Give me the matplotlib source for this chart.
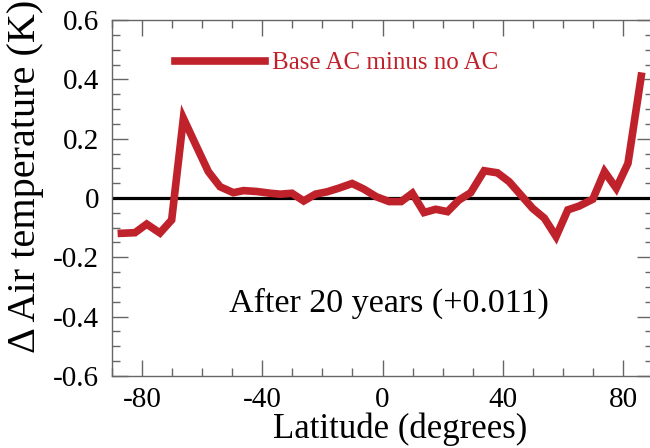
import matplotlib
matplotlib.use("Agg")
import matplotlib.pyplot as plt
from matplotlib.ticker import MultipleLocator

plt.rcParams['font.family'] = ['Liberation Serif', 'DejaVu Serif']

# zonal mean difference
lat = [-86.8, -82.3, -78.4, -74.0, -70.1, -66.2, -61.8, -57.9, -54.0, -49.6,
       -46.2, -41.8, -37.3, -34.0, -30.1, -26.2, -22.3, -18.4, -14.6, -10.1,
       -6.2, -2.0, 2.2, 6.2, 9.9, 13.8, 17.7, 21.6, 25.4, 29.3,
       33.8, 38.2, 42.1, 46.0, 49.9, 53.8, 57.7, 61.6, 65.4, 69.9,
       73.8, 77.7, 81.6, 86.0]
dtemp = [-0.119, -0.117, -0.088, -0.118, -0.074, 0.269, 0.173, 0.089, 0.038, 0.018,
         0.025, 0.022, 0.016, 0.013, 0.016, -0.010, 0.013, 0.021, 0.033, 0.049,
         0.030, 0.004, -0.012, -0.012, 0.016, -0.049, -0.038, -0.046, -0.007, 0.018,
         0.092, 0.085, 0.055, 0.010, -0.035, -0.068, -0.130, -0.040, -0.027, -0.004,
         0.089, 0.033, 0.117, 0.411]

xticks = [-80, -40, 0, 40, 80]
yticks = [-0.6, -0.4, -0.2, 0, 0.2, 0.4, 0.6]
ytick_labels = ['-0.6', '-0.4', '-0.2', '0', '0.2', '0.4', '0.6']

red = '#c0222b'
gray = '#666666'

fig = plt.figure(figsize=(6.5, 4.48), dpi=100)
ax = fig.add_axes([0.172, 0.161, 0.833, 0.794])

ax.axhline(0, color='black', lw=2.3, zorder=2)
ax.plot(lat, dtemp, color=red, lw=5.5, solid_joinstyle='miter', zorder=3,
        label='Base AC minus no AC')

ax.set_xlim(-90, 90)
ax.set_ylim(-0.6, 0.6)
ax.set_xticks(xticks)
ax.set_xticklabels([str(t) for t in xticks])
ax.set_yticks(yticks)
ax.set_yticklabels(ytick_labels)
ax.xaxis.set_minor_locator(MultipleLocator(10))
ax.yaxis.set_minor_locator(MultipleLocator(0.05))
ax.tick_params(which='both', direction='in', top=True, right=True,
               color=gray, width=1)
ax.tick_params(which='major', length=11.5, labelsize=21)
ax.tick_params(axis='x', which='major', pad=8)
ax.tick_params(axis='y', which='major', pad=9)
ax.tick_params(which='minor', length=6)
for s in ax.spines.values():
    s.set_color(gray)
    s.set_linewidth(1)

ax.set_xlabel('Latitude (degrees)', fontsize=25)
ax.xaxis.set_label_coords(0.532, -0.104)
ax.set_ylabel('\u0394 Air temperature (K)', fontsize=29)
ax.yaxis.set_label_coords(-0.126, 0.56)

leg = ax.legend(loc='center left', bbox_to_anchor=(0.1165, 0.879), frameon=False,
                fontsize=18, handlelength=3.6, handletextpad=0.3,
                borderpad=0, borderaxespad=0)
for t in leg.get_texts():
    t.set_color(red)

ax.text(0.512, 0.205, 'After 20 years (+0.011)', transform=ax.transAxes,
        ha='center', va='center', fontsize=24.5)

fig.savefig('out.png', dpi=100)
